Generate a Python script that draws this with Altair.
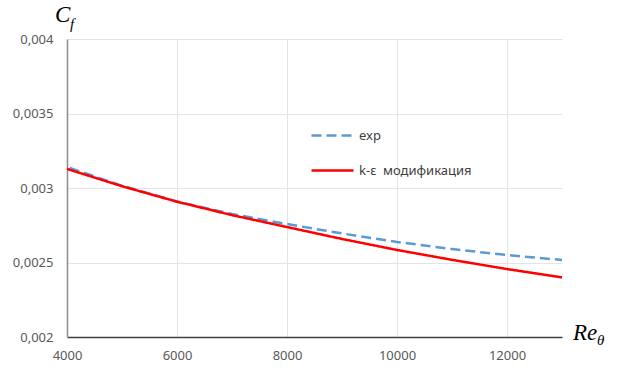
import altair as alt
import pandas as pd

re_exp = [4050, 5000, 6000, 7000, 8000, 9000, 10000, 11000, 12000, 13000]
cf_exp = [0.003135, 0.003015, 0.002910, 0.002825, 0.002758, 0.002695, 0.002638, 0.002590, 0.002550, 0.002517]

re_mod = [4000, 5000, 6000, 7000, 8000, 9000, 10000, 11000, 12000, 13000]
cf_mod = [0.003128, 0.003012, 0.002908, 0.002818, 0.002738, 0.002658, 0.002584, 0.002518, 0.002456, 0.002400]

series_names = ["exp", "k-ε\u00a0 модификация"]
x_ticks = [4000, 6000, 8000, 10000, 12000]
y_ticks = [0.002, 0.0025, 0.003, 0.0035, 0.004]

df = pd.concat([
    pd.DataFrame({"Re": re_exp, "Cf": cf_exp, "series": series_names[0]}),
    pd.DataFrame({"Re": re_mod, "Cf": cf_mod, "series": series_names[1]}),
])

FONT = "Noto Sans"
SERIF = "Liberation Serif"

legend_kw = dict(title=None, orient="none", legendX=243, legendY=74,
                 symbolType="stroke", symbolSize=1764, symbolStrokeWidth=2.5,
                 labelFont=FONT, labelFontSize=13, labelColor="#404040",
                 labelOffset=4, rowPadding=5, padding=0)

lines = alt.Chart(df).mark_line(strokeWidth=2.5).encode(
    x=alt.X("Re:Q", scale=alt.Scale(domain=[4000, 13000], nice=False),
            axis=alt.Axis(values=x_ticks, format="d", title=None, grid=True,
                          gridColor="#e4e4e4", domainColor="#404040", domainWidth=1.5,
                          ticks=False, labelPadding=12, labelFont=FONT, labelFontSize=13,
                          labelColor="#595959", labelFlush=False)),
    y=alt.Y("Cf:Q", scale=alt.Scale(domain=[0.002, 0.004], nice=False, zero=False),
            axis=alt.Axis(values=y_ticks, title=None, grid=True, gridColor="#e4e4e4",
                          domainColor="#8c8c8c", domainWidth=1.5, ticks=False,
                          labelPadding=14, labelFont=FONT, labelFontSize=13,
                          labelColor="#595959", labelFlush=False,
                          labelExpr="replace(format(datum.value, '~r'), '.', ',')")),
    color=alt.Color("series:N",
                    scale=alt.Scale(domain=series_names, range=["#5B9BD5", "#FF0000"]),
                    legend=alt.Legend(**legend_kw)),
    strokeDash=alt.StrokeDash("series:N",
                              scale=alt.Scale(domain=series_names, range=[[10, 5], [1, 0]]),
                              legend=alt.Legend(**legend_kw)),
)

def label(txt, x, y, size):
    return alt.Chart(pd.DataFrame({"t": [txt]})).mark_text(
        font=SERIF, fontStyle="italic", fontSize=size, align="left", baseline="alphabetic",
        color="#000000"
    ).encode(text="t:N", x=alt.value(x), y=alt.value(y))

c_main = label("C", -12, -17, 23)
c_sub = label("f", 3, -10, 15)
re_main = label("Re", 506, 301, 23)
re_sub = label("θ", 530, 306, 15)

chart = alt.layer(lines, c_main, c_sub, re_main, re_sub).properties(
    width=495, height=298,
    padding={"left": 67, "top": 39, "right": 55, "bottom": 31},
    autosize=alt.AutoSizeParams(type="none"),
    background="white",
).configure_view(stroke=None)

chart.save("out.html", embed_options={"renderer": "svg", "actions": False})
